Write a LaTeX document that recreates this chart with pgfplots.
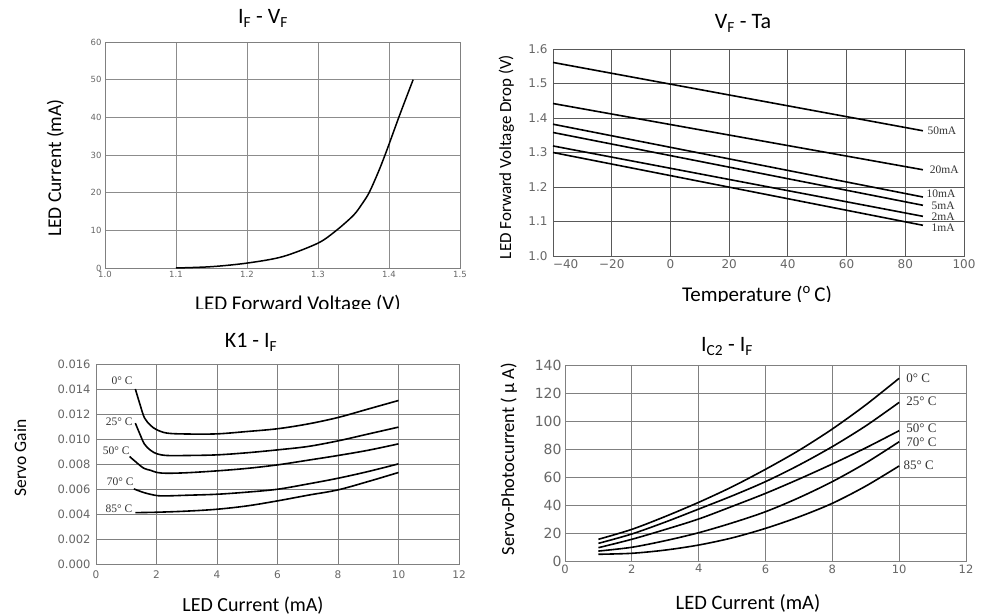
\documentclass[border=0pt]{standalone}
\usepackage{pgfplots}
\pgfplotsset{compat=1.18}
\usepackage{fontspec}
\setmainfont{Carlito}
\newfontfamily\tickfont{DejaVu Sans}
\newfontfamily\lblfont{Liberation Serif}
\newcommand{\fs}[1]{\fontsize{#1}{#1}\selectfont}
\begin{document}
\begin{tikzpicture}[x=1pt,y=1pt]
\useasboundingbox (0,0) rectangle (981,615);
\pgfplotsset{
  panel/.style={scale only axis, anchor=south west,
    axis line style={draw=black!50, line width=0.9pt},
    grid=major, grid style={draw=black!50, line width=0.8pt},
    major tick length=0pt,
    ticklabel style={text=black!60},
    /pgf/number format/assume math mode=true,
    clip=false},
  curve/.style={black, line width=1.6pt, no marks},
}
% ---------- Panel 1: IF - VF ----------
\begin{axis}[panel, at={(105pt,347pt)}, width=355pt, height=226pt,
  grid style={draw=black!45, line width=0.8pt},
  xmin=1.0, xmax=1.5, ymin=0, ymax=60,
  xtick={1.0,1.1,1.2,1.3,1.4,1.5}, xticklabels={1.0,1.1,1.2,1.3,1.4,1.5},
  ytick={0,10,20,30,40,50,60}, yticklabels={0,10,20,30,40,50,60},
  ticklabel style={font=\tickfont\fs{8.5}}]
\addplot[curve, line width=1.5pt, smooth, tension=0.5] coordinates {(1.1,0) (1.15,0.35) (1.2,1.3) (1.25,3.0) (1.3,6.6) (1.326,10) (1.35,14) (1.362,17) (1.372,20) (1.385,25.5) (1.397,31.3) (1.415,40.6) (1.434,50)};
\end{axis}
% ---------- Panel 2: VF - Ta ----------
\begin{axis}[panel, at={(553pt,359pt)}, width=411pt, height=207pt,
  axis line style={draw=black!65, line width=0.9pt},
  grid style={draw=black!65, line width=0.8pt},
  xmin=-40, xmax=100, ymin=1.0, ymax=1.6,
  xtick={-40,-20,0,20,40,60,80,100},
  xticklabels={\makebox[0pt][l]{−40},−20,0,20,40,60,80,100},
  ytick={1.0,1.1,1.2,1.3,1.4,1.5,1.6}, yticklabels={1.0,1.1,1.2,1.3,1.4,1.5,1.6},
  ticklabel style={font=\tickfont\fs{12}},
  yticklabel style={xshift=-2pt}]
\addplot[curve] coordinates {(-40,1.561) (86,1.363)};
\addplot[curve] coordinates {(-40,1.442) (86,1.250)};
\addplot[curve] coordinates {(-40,1.382) (86,1.171)};
\addplot[curve] coordinates {(-40,1.358) (86,1.147)};
\addplot[curve] coordinates {(-40,1.319) (86,1.115)};
\addplot[curve] coordinates {(-40,1.300) (86,1.089)};
\begin{scope}[every node/.style={anchor=west, inner sep=0pt, font=\lblfont\fs{11.5}, text=black!80}]
\node at (axis cs:87.5,1.363) {50mA};
\node at (axis cs:88.3,1.249) {20mA};
\node at (axis cs:87.2,1.181) {10mA};
\node at (axis cs:88.9,1.147) {5mA};
\node at (axis cs:88.9,1.115) {2mA};
\node at (axis cs:88.9,1.082) {1mA};
\end{scope}
\end{axis}
% ---------- Panel 3: K1 - IF ----------
\begin{axis}[panel, at={(96pt,51pt)}, width=363pt, height=200pt,
  xmin=0, xmax=12, ymin=0, ymax=0.016,
  xtick={0,2,4,6,8,10,12}, xticklabels={0,2,4,6,8,10,12},
  ytick={0,0.002,0.004,0.006,0.008,0.010,0.012,0.014,0.016},
  yticklabels={0.000,0.002,0.004,0.006,0.008,0.010,0.012,0.014,0.016},
  xticklabel style={font=\tickfont\fs{10.5}, yshift=-3pt},
  yticklabel style={font=\tickfont\fs{11.5}, xshift=-2pt},
  scaled y ticks=false]
\addplot[curve, smooth, tension=0.55] coordinates {(1.30,0.0140) (1.45,0.0128) (1.6,0.0117) (1.8,0.0111) (2.0,0.01075) (2.35,0.01047) (3,0.01040) (4,0.01041) (5,0.0106) (6,0.01082) (7,0.0112) (8,0.01172) (9,0.0124) (10,0.01308)};
\addplot[curve, smooth, tension=0.55] coordinates {(1.30,0.01127) (1.45,0.0104) (1.6,0.0096) (1.8,0.0091) (2.02,0.00881) (2.35,0.00868) (3,0.00868) (4,0.00873) (5,0.0089) (6,0.00913) (7,0.0094) (8,0.00985) (9,0.0104) (10,0.01095)};
\addplot[curve, smooth, tension=0.55] coordinates {(1.11,0.0086) (1.3,0.0082) (1.58,0.00766) (1.8,0.0075) (2.02,0.00732) (2.35,0.00726) (3,0.00730) (4,0.00745) (5,0.00765) (6,0.00793) (7,0.0083) (8,0.00868) (9,0.0091) (10,0.00961)};
\addplot[curve, smooth, tension=0.55] coordinates {(1.25,0.00601) (1.6,0.0057) (2.02,0.00547) (2.35,0.00545) (3,0.0055) (4,0.00558) (5,0.00575) (6,0.00598) (7,0.0064) (8,0.00686) (9,0.0074) (10,0.00801)};
\addplot[curve, smooth, tension=0.55] coordinates {(1.30,0.00411) (2,0.00414) (3,0.00423) (4,0.00438) (5,0.00465) (6,0.00505) (7,0.0055) (8,0.00593) (9,0.0066) (10,0.00732)};
\begin{scope}[every node/.style={inner sep=0pt, font=\lblfont\fs{11.5}, text=black!80}]
\node at (axis cs:0.86,0.0147) {0° C};
\node at (axis cs:0.77,0.01135) {25° C};
\node at (axis cs:0.67,0.0091) {50° C};
\node at (axis cs:0.80,0.00655) {70° C};
\node at (axis cs:0.76,0.0044) {85° C};
\end{scope}
\end{axis}
% ---------- Panel 4: IC2 - IF ----------
\begin{axis}[panel, at={(565pt,54pt)}, width=401pt, height=196pt,
  xmin=0, xmax=12, ymin=0, ymax=140,
  xtick={0,2,4,6,8,10,12}, xticklabels={0,2,4,6,8,10,12},
  ytick={0,20,40,60,80,100,120,140}, yticklabels={0,20,40,60,80,100,120,140},
  xticklabel style={font=\tickfont\fs{11.5}},
  yticklabel style={font=\tickfont\fs{14}}]
\addplot[curve, smooth] coordinates {(1,15.5) (2,22.6) (3,31.8) (4,41.9) (5,53) (6,65.5) (7,79) (8,94.3) (9,111.5) (10,130.5)};
\addplot[curve, smooth] coordinates {(1,12.6) (2,19.3) (3,27.8) (4,37.1) (5,46.5) (6,56.7) (7,68.5) (8,81.7) (9,96.5) (10,113.3)};
\addplot[curve, smooth] coordinates {(1,9.5) (2,15.5) (3,22.5) (4,30) (5,39) (6,48.3) (7,58.5) (8,69.3) (9,80.8) (10,93.1)};
\addplot[curve, smooth] coordinates {(1,7.1) (2,9.8) (3,14.5) (4,20.2) (5,27.2) (6,35.2) (7,45.2) (8,56.7) (9,70) (10,85.2)};
\addplot[curve, smooth] coordinates {(1,4.8) (2,5.5) (3,7.8) (4,11.4) (5,16.5) (6,23.3) (7,31.5) (8,41.2) (9,53.5) (10,67.9)};
\begin{scope}[every node/.style={anchor=west, inner sep=0pt, font=\lblfont\fs{13}, text=black!80}]
\node at (axis cs:10.21,130.5) {0° C};
\node at (axis cs:10.21,113.8) {25° C};
\node at (axis cs:10.21,94.8) {50° C};
\node at (axis cs:10.21,84.5) {70° C};
\node at (axis cs:10.13,68.6) {85° C};
\end{scope}
\end{axis}
% ---------- Titles ----------
\node[anchor=base, inner sep=0pt, font=\fs{22}] at (263,591) {I\textsubscript{F} - V\textsubscript{F}};
\node[anchor=base, inner sep=0pt, font=\fs{22}] at (743,586) {V\textsubscript{F} - Ta};
\node[anchor=base, inner sep=0pt, font=\fs{22}] at (251,267) {K1 - I\textsubscript{F}};
\node[anchor=base, inner sep=0pt, font=\fs{22}] at (727,263) {I\textsubscript{C2} - I\textsubscript{F}};
% ---------- Axis labels ----------
\node[anchor=base, rotate=90, inner sep=0pt, font=\fs{19.5}] at (61,447) {LED Current (mA)};
\node[anchor=base, rotate=90, inner sep=0pt, font=\fs{17}] at (511,458) {LED Forward Voltage Drop (V)};
\node[anchor=base, rotate=90, inner sep=0pt, font=\fs{17.5}] at (26,157) {Servo Gain};
\node[anchor=base, rotate=90, inner sep=0pt, font=\fs{18.5}] at (514,156) {Servo-Photocurrent ( μ A)};
\begin{scope}
\clip (0,306) rectangle (490,615);
\node[anchor=base, inner sep=0pt, font=\fs{21}] at (298,304) {LED Forward Voltage (V)};
\end{scope}
\begin{scope}
\clip (490,313) rectangle (981,615);
\node[anchor=base, inner sep=0pt, font=\fs{21}] at (757,313.5) {Temperature (\textsuperscript{o}\,C)};
\end{scope}
\node[anchor=base, inner sep=0pt, font=\fs{20}] at (253,3.5) {LED Current (mA)};
\node[anchor=base, inner sep=0pt, font=\fs{20.5}] at (748,6) {LED Current (mA)};
\end{tikzpicture}
\end{document}
